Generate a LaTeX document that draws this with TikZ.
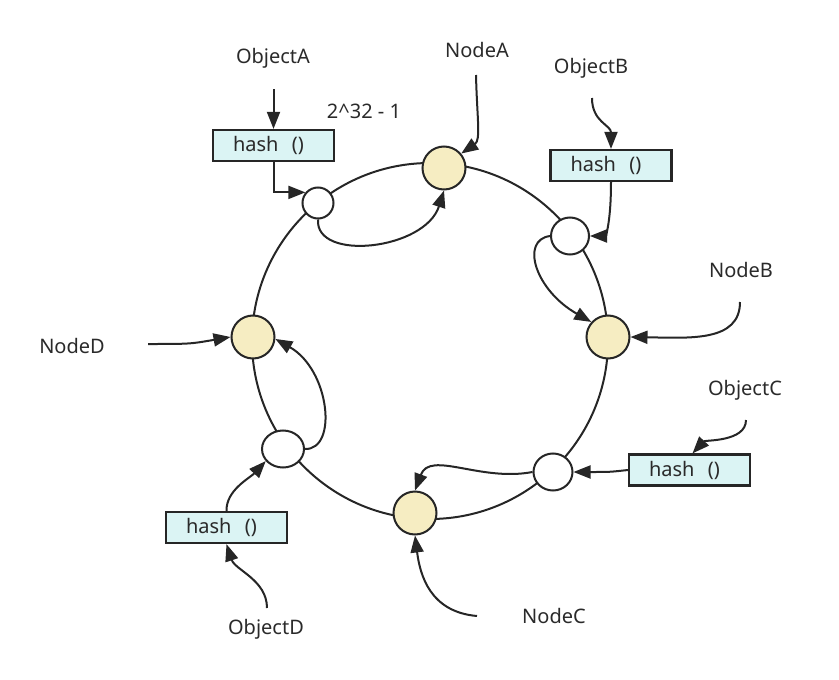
\documentclass[tikz,border=0pt]{standalone}
\usepackage{fontspec}
\setmainfont{Noto Sans}
\usetikzlibrary{arrows.meta,shapes.geometric}
\definecolor{ln}{HTML}{262626}
\definecolor{yel}{HTML}{F6EDC2}
\definecolor{cyn}{HTML}{DBF4F4}
\definecolor{txt}{HTML}{2A2A2A}
\begin{document}
\begin{tikzpicture}[x=1pt,y=-1pt,
  lbl/.style={text=txt,font=\fontsize{20}{23}\selectfont,inner sep=0pt},
  ynode/.style={circle,draw=ln,line width=2pt,fill=yel,minimum size=43pt,inner sep=0pt},
  wnode/.style={ellipse,draw=ln,line width=2pt,fill=white,inner sep=0pt},
  hashbox/.style={draw=ln,line width=2.2pt,fill=cyn,minimum height=31pt,text width=81pt,
    inner xsep=20pt,inner ysep=0pt,align=left,font=\fontsize{20}{23}\selectfont,text=txt},
  arr/.style={draw=ln,line width=2pt,-{Triangle[length=17pt,width=13pt]}},
  ringstyle/.style={circle,draw=ln,line width=2pt,minimum size=356pt,inner sep=0pt}]
\useasboundingbox (0,0) rectangle (839,680);

% ring
\node[ringstyle] (ring) at (430,341) {};

% nodes on the ring
\node[ynode] (nA) at (444,168) {};
\node[ynode] (nB) at (608,337) {};
\node[ynode] (nC) at (415,513) {};
\node[ynode] (nD) at (253,337) {};
\node[wnode,minimum width=31pt,minimum height=31pt] (wA) at (318,203) {};
\node[wnode,minimum width=38pt,minimum height=37pt] (wB) at (570,236) {};
\node[wnode,minimum width=39pt,minimum height=37pt] (wC) at (553,472) {};
\node[wnode,minimum width=42pt,minimum height=37pt] (wD) at (283,449) {};

% hash boxes
\node[hashbox] (hA) at (273.5,145.5) {hash\ \ ()};
\node[hashbox] (hB) at (611,165.5) {hash\ \ ()};
\node[hashbox] (hC) at (689.5,470) {hash\ \ ()};
\node[hashbox] (hD) at (226.5,527.5) {hash\ \ ()};

% labels
\node[lbl] (oA) at (273,58) {ObjectA};
\node[lbl] (lA) at (477,50) {NodeA};
\node[lbl] (top) at (364,111) {2\textasciicircum32 - 1};
\node[lbl] (oB) at (591,68) {ObjectB};
\node[lbl] (lB) at (741,270) {NodeB};
\node[lbl] (oC) at (745,390) {ObjectC};
\node[lbl] (lC) at (554,616) {NodeC};
\node[lbl] (lD) at (72,346) {NodeD};
\node[lbl] (oD) at (266,629) {ObjectD};

% free ends
\coordinate (oAs) at (273.5,89);
\coordinate (lAs) at (476,75);
\coordinate (oBs) at (592,98);
\coordinate (lBs) at (740,302);
\coordinate (oCs) at (746,420);
\coordinate (lCs) at (477,616);
\coordinate (lDs) at (148,344);
\coordinate (oDs) at (267,608);

% A
\draw[arr] (oAs) -- (hA.north);
\draw[arr] (hA.south) |- (wA.140);
\draw[arr] (wA.south) .. controls (315,262) and (425,250) .. (nA.south);
\draw[arr] (lAs) .. controls (477,118) and (481,140) .. (nA.40);
% B
\draw[arr] (oBs) .. controls (592,122) and (611,125) .. (hB.north);
\draw[arr] (hB.south) .. controls (611,225) and (605,236) .. (wB.east);
\draw[arr] (wB.west) .. controls (520,240) and (535,290) .. (nB.138);
\draw[arr] (lBs) .. controls (740,342) and (690,338) .. (nB.east);
% C
\draw[arr] (oCs) .. controls (746,442) and (705,440) .. ([xshift=3pt]hC.north);
\draw[arr] (hC.west) .. controls (610,472) .. (wC.east);
\draw[arr] (wC.west) .. controls (480,482) and (430,450) .. (nC.north);
\draw[arr] (lCs) .. controls (430,612) and (420,575) .. (nC.south);
% D
\draw[arr] (lDs) .. controls (190,344) .. (nD.west);
\draw[arr] (wD.east) .. controls (338,450) and (330,370) .. (nD.-5);
\draw[arr] (hD.north) .. controls (226,490) and (250,478) .. (wD.215);
\draw[arr] (oDs) .. controls (267,580) and (235,570) .. (hD.south);
\end{tikzpicture}
\end{document}
